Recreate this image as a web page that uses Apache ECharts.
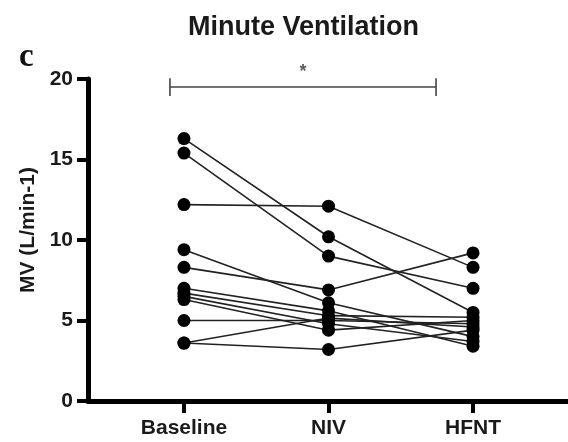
<!DOCTYPE html>
<html><head><meta charset="utf-8">
<script src="https://cdn.jsdelivr.net/npm/echarts@6/dist/echarts.min.js"></script>
<style>html,body{margin:0;padding:0;background:#fff}#c{width:568px;height:442px}</style>
</head><body><div id="c"></div>
<script>
const categories = ['Baseline', 'NIV', 'HFNT'];
const baseline = [16.3, 15.4, 12.2, 9.4, 8.3, 7.0, 6.7, 6.5, 6.3, 5.0, 3.6, 3.6];
const niv      = [10.2,  9.0, 12.1, 6.1, 6.9, 5.6, 5.3, 4.8, 4.4, 5.0, 5.15, 3.2];
const hfnt     = [ 5.5,  7.0,  8.3, 4.0, 9.2, 3.4, 5.2, 3.7, 5.0, 4.8, 4.6, 4.4];
const yTicks = [0, 5, 10, 15, 20];
const sigFrom = -0.097, sigTo = 1.744, sigY = 19.5, sigTickHalf = 0.55;

const chart = echarts.init(document.getElementById('c'));
const font = 'Liberation Sans, Arial, sans-serif';
const series = [];
for (let i = 0; i < baseline.length; i++) {
  series.push({
    type: 'line', data: [[0, baseline[i]], [1, niv[i]], [2, hfnt[i]]],
    symbol: 'circle', symbolSize: 13,
    itemStyle: { color: '#000' },
    lineStyle: { color: '#222', width: 1.6 },
    z: 3
  });
}
const bStyle = { color: '#444', width: 1.6 };
series.push({ type: 'line', symbol: 'none', lineStyle: bStyle, data: [[sigFrom, sigY], [sigTo, sigY]], clip: false });
series.push({ type: 'line', symbol: 'none', lineStyle: bStyle, data: [[sigFrom, sigY - sigTickHalf], [sigFrom, sigY + sigTickHalf]], clip: false });
series.push({ type: 'line', symbol: 'none', lineStyle: bStyle, data: [[sigTo, sigY - sigTickHalf], [sigTo, sigY + sigTickHalf]], clip: false });
series.push({ type: 'scatter', symbolSize: 0, clip: false, data: [[(sigFrom + sigTo) / 2, sigY]],
  label: { show: true, formatter: '*', position: 'inside', offset: [0, -15], fontSize: 18, fontFamily: font, fontWeight: 'bold', color: '#333' } });

chart.setOption({
  animation: false,
  backgroundColor: '#fff',
  title: [
    { text: 'Minute Ventilation', left: 183, top: 9, textStyle: { fontFamily: font, fontWeight: 'bold', fontSize: 27, color: '#1a1a1a' } },
    { text: 'c', left: 14, top: 36, textStyle: { fontFamily: 'Liberation Serif, Times New Roman, serif', fontWeight: 'bold', fontSize: 33, color: '#111' } }
  ],
  grid: { left: 88, right: 0, top: 79, bottom: 41 },
  xAxis: {
    type: 'value', min: -0.664, max: 2.657,
    splitLine: { show: false },
    axisLine: { show: true, onZero: false, lineStyle: { color: '#000', width: 5 } },
    axisTick: { show: true, customValues: [0, 1, 2], length: 12, lineStyle: { color: '#000', width: 4 } },
    axisLabel: { customValues: [0, 1, 2], formatter: v => categories[Math.round(v)], margin: 17,
      fontFamily: font, fontWeight: 'bold', fontSize: 21, color: '#1a1a1a' }
  },
  yAxis: {
    type: 'value', min: 0, max: 20, interval: 5,
    name: 'MV (L/min-1)', nameLocation: 'middle', nameGap: 46,
    nameTextStyle: { fontFamily: font, fontWeight: 'bold', fontSize: 21, color: '#1a1a1a', padding: [0, 0, 0, 20] },
    splitLine: { show: false },
    axisLine: { show: true, onZero: false, lineStyle: { color: '#000', width: 5 } },
    axisTick: { show: true, length: 11, lineStyle: { color: '#000', width: 4 } },
    axisLabel: { margin: 15, fontFamily: font, fontWeight: 'bold', fontSize: 21, color: '#1a1a1a' }
  },
  series: series
});
</script></body></html>
